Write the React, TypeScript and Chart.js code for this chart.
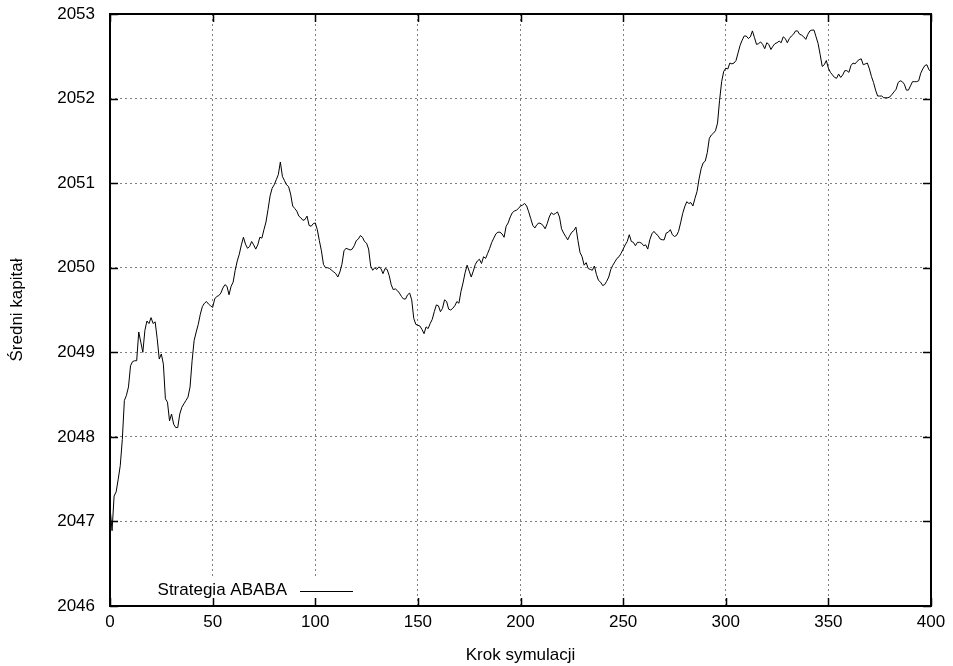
import React, { useEffect, useRef } from "react";
import { Chart, registerables } from "chart.js";

Chart.register(...registerables);

const FONT = "'Liberation Sans', Arial, Helvetica, sans-serif";

const seriesLabel = "Strategia ABABA";
const xTitle = "Krok symulacji";
const yTitle = "Średni kapitał";

const xTicks = [0, 50, 100, 150, 200, 250, 300, 350, 400];
const yTicks = [2046, 2047, 2048, 2049, 2050, 2051, 2052, 2053];

// Średni kapitał for steps 0..400
const values: number[] = [
  // 0-49
  2047.17, 2046.89, 2047.30, 2047.35, 2047.50, 2047.66, 2047.97, 2048.43, 2048.49, 2048.59,
  2048.84, 2048.89, 2048.90, 2048.90, 2049.24, 2049.12, 2049.00, 2049.26, 2049.37, 2049.34,
  2049.41, 2049.34, 2049.36, 2049.16, 2048.92, 2048.98, 2048.86, 2048.45, 2048.41, 2048.19,
  2048.27, 2048.15, 2048.11, 2048.11, 2048.27, 2048.35, 2048.39, 2048.43, 2048.47, 2048.59,
  2048.90, 2049.14, 2049.24, 2049.33, 2049.45, 2049.54, 2049.58, 2049.60, 2049.57, 2049.55,
  // 50-99
  2049.53, 2049.63, 2049.66, 2049.67, 2049.70, 2049.76, 2049.80, 2049.78, 2049.68, 2049.78,
  2049.83, 2049.97, 2050.08, 2050.16, 2050.27, 2050.36, 2050.28, 2050.23, 2050.25, 2050.31,
  2050.27, 2050.22, 2050.27, 2050.36, 2050.35, 2050.45, 2050.54, 2050.69, 2050.85, 2050.94,
  2050.98, 2051.04, 2051.10, 2051.25, 2051.08, 2051.03, 2050.98, 2050.96, 2050.87, 2050.73,
  2050.70, 2050.67, 2050.61, 2050.59, 2050.56, 2050.57, 2050.61, 2050.50, 2050.49, 2050.52,
  // 100-149
  2050.53, 2050.45, 2050.32, 2050.20, 2050.04, 2050.00, 2050.00, 2049.99, 2049.97, 2049.95,
  2049.93, 2049.89, 2049.95, 2050.04, 2050.20, 2050.23, 2050.22, 2050.21, 2050.22, 2050.26,
  2050.32, 2050.34, 2050.38, 2050.36, 2050.31, 2050.29, 2050.22, 2050.02, 2049.97, 2050.00,
  2049.98, 2050.01, 2049.99, 2049.93, 2049.99, 2049.98, 2049.91, 2049.80, 2049.74, 2049.75,
  2049.73, 2049.70, 2049.66, 2049.63, 2049.63, 2049.68, 2049.70, 2049.62, 2049.40, 2049.33,
  // 150-199
  2049.32, 2049.31, 2049.27, 2049.22, 2049.30, 2049.28, 2049.34, 2049.39, 2049.48, 2049.56,
  2049.55, 2049.48, 2049.52, 2049.62, 2049.60, 2049.51, 2049.50, 2049.52, 2049.55, 2049.60,
  2049.58, 2049.72, 2049.82, 2049.94, 2050.03, 2049.96, 2049.89, 2049.96, 2050.04, 2050.08,
  2050.10, 2050.05, 2050.13, 2050.11, 2050.17, 2050.23, 2050.30, 2050.35, 2050.40, 2050.42,
  2050.42, 2050.40, 2050.36, 2050.49, 2050.53, 2050.60, 2050.65, 2050.67, 2050.68, 2050.70,
  // 200-249
  2050.73, 2050.74, 2050.76, 2050.73, 2050.66, 2050.58, 2050.50, 2050.47, 2050.51, 2050.53,
  2050.52, 2050.50, 2050.46, 2050.52, 2050.60, 2050.65, 2050.63, 2050.64, 2050.66, 2050.60,
  2050.46, 2050.41, 2050.37, 2050.33, 2050.38, 2050.42, 2050.44, 2050.48, 2050.32, 2050.18,
  2050.13, 2050.03, 2050.06, 2049.99, 2049.98, 2049.97, 2050.02, 2049.92, 2049.85, 2049.83,
  2049.79, 2049.80, 2049.84, 2049.89, 2049.98, 2050.03, 2050.07, 2050.11, 2050.13, 2050.17,
  // 250-299
  2050.22, 2050.27, 2050.31, 2050.39, 2050.31, 2050.30, 2050.26, 2050.30, 2050.30, 2050.29,
  2050.26, 2050.27, 2050.22, 2050.33, 2050.40, 2050.43, 2050.40, 2050.38, 2050.34, 2050.33,
  2050.33, 2050.41, 2050.42, 2050.45, 2050.39, 2050.37, 2050.38, 2050.43, 2050.53, 2050.64,
  2050.72, 2050.78, 2050.76, 2050.77, 2050.73, 2050.82, 2050.90, 2051.05, 2051.17, 2051.24,
  2051.26, 2051.36, 2051.53, 2051.57, 2051.59, 2051.62, 2051.71, 2051.98, 2052.20, 2052.32,
  // 300-349
  2052.36, 2052.35, 2052.42, 2052.41, 2052.42, 2052.45, 2052.54, 2052.63, 2052.69, 2052.74,
  2052.74, 2052.71, 2052.73, 2052.80, 2052.72, 2052.64, 2052.65, 2052.67, 2052.64, 2052.59,
  2052.66, 2052.64, 2052.58, 2052.62, 2052.65, 2052.66, 2052.68, 2052.66, 2052.73, 2052.71,
  2052.66, 2052.71, 2052.74, 2052.76, 2052.80, 2052.80, 2052.76, 2052.75, 2052.73, 2052.70,
  2052.76, 2052.80, 2052.81, 2052.81, 2052.73, 2052.65, 2052.52, 2052.38, 2052.40, 2052.45,
  // 350-400
  2052.36, 2052.31, 2052.28, 2052.25, 2052.24, 2052.29, 2052.25, 2052.28, 2052.33, 2052.33,
  2052.31, 2052.39, 2052.42, 2052.41, 2052.44, 2052.46, 2052.47, 2052.40, 2052.41, 2052.42,
  2052.35, 2052.26, 2052.19, 2052.10, 2052.03, 2052.03, 2052.03, 2052.01, 2052.01, 2052.01,
  2052.02, 2052.05, 2052.08, 2052.11, 2052.19, 2052.21, 2052.20, 2052.17, 2052.10, 2052.10,
  2052.15, 2052.20, 2052.20, 2052.20, 2052.21, 2052.30, 2052.35, 2052.39, 2052.40, 2052.34,
  2052.32,
];

export default function App() {
  const ref = useRef<HTMLCanvasElement>(null);

  useEffect(() => {
    document.body.style.margin = "0";
    const canvas = ref.current;
    if (!canvas) return;

    const framePlugin = {
      id: "gnuplotFrame",
      afterDatasetsDraw(chart: any) {
        const { ctx, chartArea } = chart;
        const { left, right, top, bottom } = chartArea;
        const xs = chart.scales.x;
        const ys = chart.scales.y;
        ctx.save();
        // opaque key box
        ctx.fillStyle = "#fff";
        ctx.fillRect(left + 2, bottom - 27, 250, 26);
        // ticks (inward, mirrored)
        ctx.strokeStyle = "#000";
        ctx.lineWidth = 1.5;
        ctx.beginPath();
        const tl = 8;
        for (const v of xTicks) {
          const px = Math.round(xs.getPixelForValue(v)) + 0.5;
          ctx.moveTo(px, bottom);
          ctx.lineTo(px, bottom - tl);
          ctx.moveTo(px, top);
          ctx.lineTo(px, top + tl);
        }
        for (const v of yTicks) {
          const py = Math.round(ys.getPixelForValue(v)) + 0.5;
          ctx.moveTo(left, py);
          ctx.lineTo(left + tl, py);
          ctx.moveTo(right, py);
          ctx.lineTo(right - tl, py);
        }
        ctx.stroke();
        // border
        ctx.lineWidth = 2;
        ctx.strokeRect(left, top, right - left, bottom - top);
        // key
        ctx.font = `17px ${FONT}`;
        ctx.fillStyle = "#000";
        ctx.textAlign = "right";
        ctx.textBaseline = "middle";
        const ky = bottom - 15.5;
        ctx.fillText(seriesLabel, left + 177, ky);
        ctx.lineWidth = 1;
        ctx.beginPath();
        ctx.moveTo(left + 190, Math.round(ky) + 0.5);
        ctx.lineTo(left + 243, Math.round(ky) + 0.5);
        ctx.stroke();
        ctx.restore();
      },
    };

    const chart = new Chart(canvas, {
      type: "line",
      data: {
        datasets: [
          {
            label: seriesLabel,
            data: values.map((v, i) => ({ x: i, y: v })),
            borderColor: "#000",
            borderWidth: 1,
            pointRadius: 0,
            tension: 0,
            fill: false,
          },
        ],
      },
      options: {
        animation: false,
        responsive: false,
        devicePixelRatio: 1,
        layout: { padding: { top: 14, right: 22, left: 0, bottom: 0 } },
        plugins: {
          legend: { display: false },
          tooltip: { enabled: false },
        },
        scales: {
          x: {
            type: "linear",
            min: 0,
            max: 400,
            afterBuildTicks: (s: any) => {
              s.ticks = xTicks.map((v) => ({ value: v }));
            },
            afterFit: (s: any) => {
              s.height = 60;
              s.paddingLeft = 0;
              s.paddingRight = 0;
            },
            grid: {
              color: "rgba(0,0,0,0.5)",
              lineWidth: 1,
              drawTicks: false,
            },
            border: { display: false, dash: [2, 3] },
            ticks: {
              color: "#000",
              padding: 6,
              maxRotation: 0,
              font: { family: FONT, size: 17 },
              callback: (v: any) => String(v),
            },
            title: {
              display: true,
              text: xTitle,
              color: "#000",
              font: { family: FONT, size: 17 },
              padding: { top: 0, bottom: 0 },
            },
          },
          y: {
            type: "linear",
            min: 2046,
            max: 2053,
            afterBuildTicks: (s: any) => {
              s.ticks = yTicks.map((v) => ({ value: v }));
            },
            afterFit: (s: any) => {
              s.width = 110;
              s.paddingTop = 0;
              s.paddingBottom = 0;
            },
            grid: {
              color: "rgba(0,0,0,0.5)",
              lineWidth: 1,
              drawTicks: false,
            },
            border: { display: false, dash: [2, 3] },
            ticks: {
              color: "#000",
              padding: 15,
              font: { family: FONT, size: 17 },
              callback: (v: any) => String(v),
            },
            title: {
              display: true,
              text: yTitle,
              color: "#000",
              font: { family: FONT, size: 17 },
              padding: { top: 7, bottom: 0 },
            },
          },
        },
      } as any,
      plugins: [framePlugin],
    });

    return () => {
      chart.destroy();
    };
  }, []);

  return (
    <div style={{ position: "absolute", left: 0, top: 0, width: 953, height: 666, background: "#fff" }}>
      <canvas ref={ref} width={953} height={666} style={{ display: "block", width: 953, height: 666 }} />
    </div>
  );
}
